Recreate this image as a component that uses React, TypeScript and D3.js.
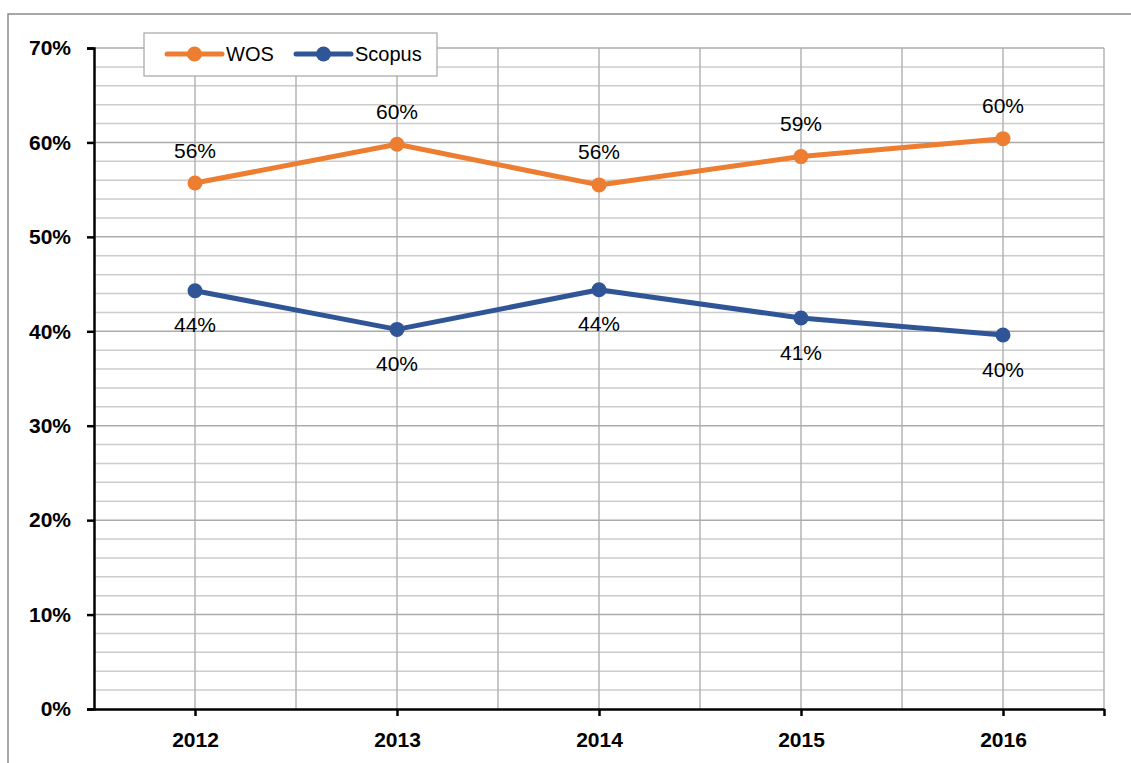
import React, { useEffect, useRef } from "react";
import * as d3 from "d3";

const years = [2012, 2013, 2014, 2015, 2016];
const wosValues = [55.7, 59.8, 55.5, 58.5, 60.4];
const scopusValues = [44.3, 40.2, 44.4, 41.4, 39.6];
const yTicks = [0, 10, 20, 30, 40, 50, 60, 70];

const FONT = "'Liberation Sans', Arial, sans-serif";

const App: React.FC = () => {
  const chartRef = useRef<SVGSVGElement>(null);

  useEffect(() => {
    const svg = d3.select(chartRef.current);
    svg.selectAll("*").remove();

    const width = 1131;
    const height = 763;
    const margin = { top: 48, right: 27, bottom: 54, left: 94 };

    // outer chart frame (runs past the right/bottom edge of the picture)
    svg
      .append("rect")
      .attr("x", 8)
      .attr("y", 14)
      .attr("width", 1140)
      .attr("height", 800)
      .attr("fill", "#fff")
      .attr("stroke", "#8c8c8c")
      .attr("stroke-width", 1.5);

    const x = d3
      .scaleLinear()
      .domain([2011.5, 2016.5])
      .range([margin.left, width - margin.right]);

    const y = d3
      .scaleLinear()
      .domain([0, 70])
      .range([height - margin.bottom, margin.top]);

    const g = svg.append("g");

    // minor horizontal gridlines every 2%
    const minor = d3.range(0, 71, 2).filter((d) => d % 10 !== 0);
    g.selectAll(".minor")
      .data(minor)
      .enter()
      .append("line")
      .attr("x1", x(2011.5))
      .attr("x2", x(2016.5))
      .attr("y1", (d) => y(d))
      .attr("y2", (d) => y(d))
      .attr("stroke", "#cccccc")
      .attr("stroke-width", 1.5);

    // vertical gridlines every half year
    g.selectAll(".vgrid")
      .data(d3.range(2012, 2016.51, 0.5))
      .enter()
      .append("line")
      .attr("x1", (d) => x(d))
      .attr("x2", (d) => x(d))
      .attr("y1", y(70))
      .attr("y2", y(0))
      .attr("stroke", "#b4b4b4")
      .attr("stroke-width", 1.5);

    // major horizontal gridlines
    g.selectAll(".major")
      .data(yTicks.filter((d) => d > 0))
      .enter()
      .append("line")
      .attr("x1", x(2011.5))
      .attr("x2", x(2016.5))
      .attr("y1", (d) => y(d))
      .attr("y2", (d) => y(d))
      .attr("stroke", "#ababab")
      .attr("stroke-width", 1.5);

    // y axis
    const yAxis = g
      .append("g")
      .attr("transform", `translate(${margin.left},0)`)
      .call(
        d3
          .axisLeft(y)
          .tickValues(yTicks)
          .tickSize(7)
          .tickPadding(16)
          .tickFormat((d) => `${d}%`)
      );
    yAxis.select(".domain").attr("stroke", "#000").attr("stroke-width", 2.5);
    yAxis.selectAll(".tick line").attr("stroke", "#000").attr("stroke-width", 2.5);
    yAxis
      .selectAll(".tick text")
      .attr("fill", "#000")
      .style("font-family", FONT)
      .style("font-size", "21px")
      .style("font-weight", "bold");

    // x axis
    const xAxis = g
      .append("g")
      .attr("transform", `translate(0,${y(0)})`)
      .call(
        d3
          .axisBottom(x)
          .tickValues([...years, 2016.5])
          .tickSize(7)
          .tickSizeOuter(0)
          .tickPadding(16)
          .tickFormat((d) => (Number(d) % 1 === 0 ? `${d}` : ""))
      );
    xAxis.select(".domain").attr("stroke", "#000").attr("stroke-width", 2.5);
    xAxis.selectAll(".tick line").attr("stroke", "#000").attr("stroke-width", 2.5);
    xAxis
      .selectAll(".tick text")
      .attr("fill", "#000")
      .style("font-family", FONT)
      .style("font-size", "21px")
      .style("font-weight", "bold");

    const series = [
      { name: "WOS", values: wosValues, color: "#ED7D31", dy: -33 },
      { name: "Scopus", values: scopusValues, color: "#2F5597", dy: 34 },
    ];

    const line = d3
      .line<number>()
      .x((_, i) => x(years[i]))
      .y((d) => y(d));

    series.forEach((s) => {
      g.append("path")
        .datum(s.values)
        .attr("d", line)
        .attr("fill", "none")
        .attr("stroke", s.color)
        .attr("stroke-width", 5)
        .attr("stroke-linejoin", "round");

      g.selectAll(`.pt-${s.name}`)
        .data(s.values)
        .enter()
        .append("circle")
        .attr("cx", (_, i) => x(years[i]))
        .attr("cy", (d) => y(d))
        .attr("r", 7.5)
        .attr("fill", s.color);

      g.selectAll(`.lbl-${s.name}`)
        .data(s.values)
        .enter()
        .append("text")
        .attr("x", (_, i) => x(years[i]))
        .attr("y", (d) => y(d) + s.dy)
        .attr("text-anchor", "middle")
        .attr("dominant-baseline", "central")
        .style("font-family", FONT)
        .style("font-size", "21px")
        .attr("fill", "#000")
        .text((d) => `${Math.round(d)}%`);
    });

    // legend
    const legend = svg.append("g");
    legend
      .append("rect")
      .attr("x", 144)
      .attr("y", 33)
      .attr("width", 293)
      .attr("height", 43)
      .attr("fill", "#fff")
      .attr("stroke", "#a6a6a6")
      .attr("stroke-width", 1.2);

    const legendItems = [
      { ...series[0], lx: 167 },
      { ...series[1], lx: 296 },
    ];
    legendItems.forEach((s) => {
      legend
        .append("line")
        .attr("x1", s.lx)
        .attr("x2", s.lx + 55)
        .attr("y1", 54)
        .attr("y2", 54)
        .attr("stroke", s.color)
        .attr("stroke-width", 5)
        .attr("stroke-linecap", "round");
      legend
        .append("circle")
        .attr("cx", s.lx + 27.5)
        .attr("cy", 54)
        .attr("r", 7.5)
        .attr("fill", s.color);
      legend
        .append("text")
        .attr("x", s.lx + 59)
        .attr("y", 54)
        .attr("dominant-baseline", "central")
        .style("font-family", FONT)
        .style("font-size", "20px")
        .attr("fill", "#000")
        .text(s.name);
    });
  }, []);

  return (
    <svg
      ref={chartRef}
      width={1131}
      height={763}
      style={{ position: "absolute", left: 0, top: 0 }}
    />
  );
};

export default App;
